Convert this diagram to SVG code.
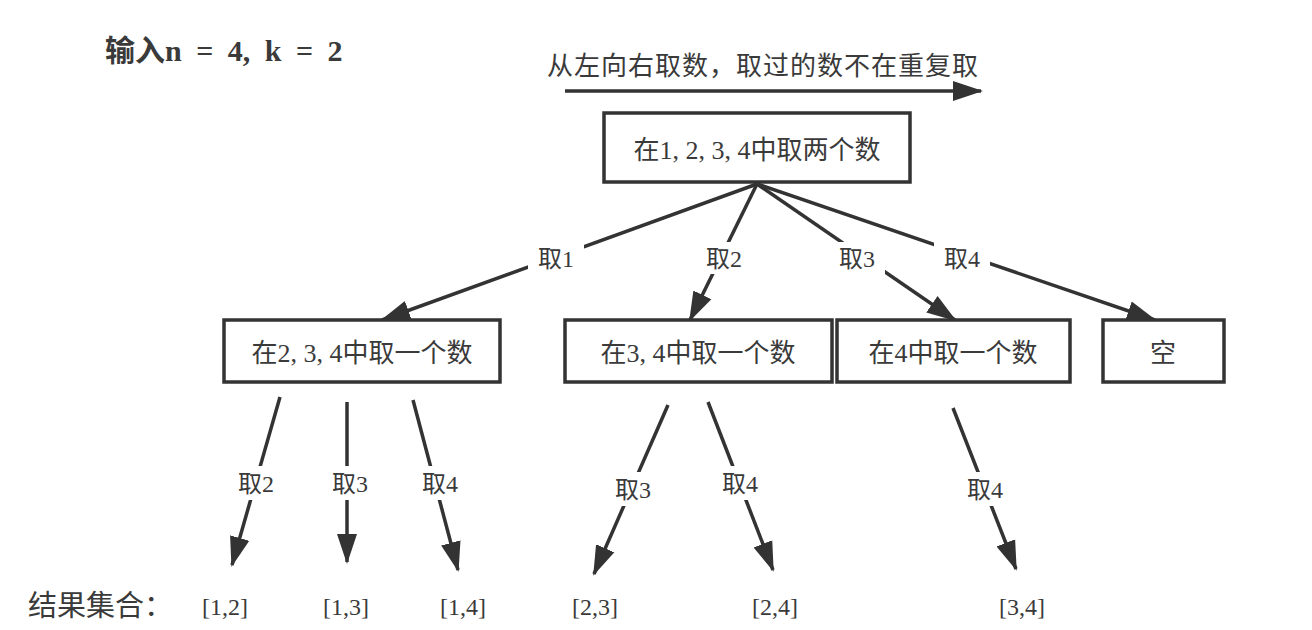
<svg xmlns="http://www.w3.org/2000/svg" width="1312" height="630" viewBox="0 0 1312 630">
<style>
.t{font-family:"Liberation Serif","Noto Sans CJK SC",serif;fill:#3a3a3a;font-size:24px}
.b{font-size:26px}
.c{text-anchor:middle}
.box{fill:#fff;stroke:#333;stroke-width:3.5}
.ln{stroke:#333;stroke-width:3.5;fill:none;marker-end:url(#ah)}
.bg{fill:#fff}
</style>
<defs>
<marker id="ah" markerUnits="userSpaceOnUse" markerWidth="30" markerHeight="24" viewBox="0 0 30 24" refX="28" refY="12" orient="auto">
<path d="M0,2 L30,12 L0,22 Z" fill="#333"/>
</marker>
</defs>
<rect width="1312" height="630" fill="#fff"/>
<text class="t" x="105" y="61" style="font-size:30px;font-weight:bold;word-spacing:7px">输入n = 4, k = 2</text>
<text class="t" x="547" y="75" style="font-size:26px" textLength="431" lengthAdjust="spacing">从左向右取数，取过的数不在重复取</text>
<g id="connectors">
<line class="ln" x1="565" y1="91" x2="981" y2="91"/>
<line class="ln" x1="757" y1="184" x2="382" y2="320"/>
<line class="ln" x1="757" y1="184" x2="690" y2="320"/>
<line class="ln" x1="757" y1="184" x2="955" y2="320"/>
<line class="ln" x1="757" y1="184" x2="1155" y2="320"/>
<line class="ln" x1="280" y1="397" x2="232" y2="565"/>
<line class="ln" x1="347" y1="402" x2="347" y2="562"/>
<line class="ln" x1="413" y1="400" x2="458" y2="570"/>
<line class="ln" x1="668" y1="405" x2="594" y2="574"/>
<line class="ln" x1="708" y1="402" x2="773" y2="570"/>
<line class="ln" x1="953" y1="408" x2="1016" y2="569"/>
<rect class="bg" x="528" y="242" width="56" height="32"/>
<text class="t c" x="556" y="267">取1</text>
<rect class="bg" x="696" y="242" width="56" height="32"/>
<text class="t c" x="724" y="267">取2</text>
<rect class="bg" x="829" y="242" width="56" height="32"/>
<text class="t c" x="857" y="267">取3</text>
<rect class="bg" x="934" y="242" width="56" height="32"/>
<text class="t c" x="962" y="267">取4</text>
<rect class="bg" x="228" y="466" width="56" height="34"/>
<text class="t c" x="256" y="492">取2</text>
<rect class="bg" x="322" y="466" width="56" height="34"/>
<text class="t c" x="350" y="492">取3</text>
<rect class="bg" x="412" y="466" width="56" height="34"/>
<text class="t c" x="440" y="492">取4</text>
<rect class="bg" x="605" y="472" width="56" height="34"/>
<text class="t c" x="633" y="498">取3</text>
<rect class="bg" x="712" y="466" width="56" height="34"/>
<text class="t c" x="740" y="492">取4</text>
<rect class="bg" x="957" y="472" width="56" height="34"/>
<text class="t c" x="985" y="498">取4</text>
</g>
<g id="root">
<rect class="box" x="604" y="113" width="306" height="69"/>
<text class="t b c" x="757" y="159">在1, 2, 3, 4中取两个数</text>
</g>
<g id="n1">
<rect class="box" x="224" y="320" width="276" height="62"/>
<text class="t b c" x="362" y="362">在2, 3, 4中取一个数</text>
</g>
<g id="n2">
<rect class="box" x="565" y="320" width="267" height="62"/>
<text class="t b c" x="698" y="362">在3, 4中取一个数</text>
</g>
<g id="n3">
<rect class="box" x="837" y="320" width="233" height="62"/>
<text class="t b c" x="953" y="362">在4中取一个数</text>
</g>
<g id="n4">
<rect class="box" x="1103" y="320" width="121" height="62"/>
<text class="t b c" x="1163" y="362">空</text>
</g>
<g id="results">
<text class="t" x="28" y="616" style="font-size:29px">结果集合：</text>
<text class="t c" x="225" y="615">[1,2]</text>
<text class="t c" x="346" y="615">[1,3]</text>
<text class="t c" x="463" y="615">[1,4]</text>
<text class="t c" x="595" y="615">[2,3]</text>
<text class="t c" x="775" y="615">[2,4]</text>
<text class="t c" x="1022" y="615">[3,4]</text>
</g>
</svg>
